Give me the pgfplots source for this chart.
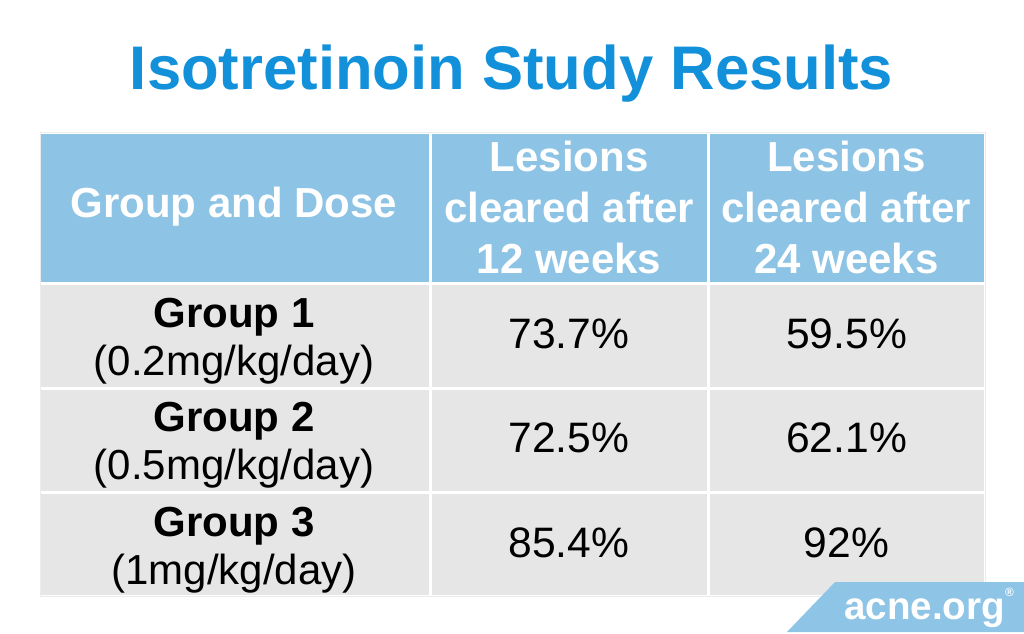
\documentclass[border=0pt]{standalone}
\usepackage{pgfplots}
\pgfplotsset{compat=1.18}
\usepackage{pgfplotstable}
\usepackage{fontspec}
\setmainfont{Liberation Sans}
\definecolor{titleblue}{HTML}{1390DA}
\definecolor{hdr}{HTML}{8DC3E4}
\definecolor{cellgray}{HTML}{E6E6E6}
\definecolor{logoblue}{HTML}{8EC4E6}

\pgfplotstableread{
x y label
569 334 73.7\%
569 438 72.5\%
569 543 85.4\%
846.5 334 59.5\%
846.5 438 62.1\%
846.5 543 92\%
}\valuetable

\begin{document}
\begin{tikzpicture}
\begin{axis}[
  scale only axis, width=512pt, height=316pt,
  xmin=0, xmax=1024, ymin=0, ymax=632, y dir=reverse,
  hide axis, clip=false,
]
% page frame (invisible)
\addplot[draw=none, forget plot] coordinates {(0,0) (1024,0) (1024,632) (0,632)} -- cycle;
% table background (white gaps)
\addplot[fill=white, draw=black!8, line width=0.5pt] coordinates {(40,132) (985,132) (985,596) (40,596)} -- cycle;
% header cells
\addplot[fill=hdr, draw=none] coordinates {(41,134) (428.5,134) (428.5,281.5) (41,281.5)} -- cycle;
\addplot[fill=hdr, draw=none] coordinates {(431.5,134) (706.5,134) (706.5,281.5) (431.5,281.5)} -- cycle;
\addplot[fill=hdr, draw=none] coordinates {(709.5,134) (984,134) (984,281.5) (709.5,281.5)} -- cycle;
% body rows
\addplot[fill=cellgray, draw=none] coordinates {(41,284.5) (428.5,284.5) (428.5,386.5) (41,386.5)} -- cycle;
\addplot[fill=cellgray, draw=none] coordinates {(431.5,284.5) (706.5,284.5) (706.5,386.5) (431.5,386.5)} -- cycle;
\addplot[fill=cellgray, draw=none] coordinates {(709.5,284.5) (984,284.5) (984,386.5) (709.5,386.5)} -- cycle;
\addplot[fill=cellgray, draw=none] coordinates {(41,389.5) (428.5,389.5) (428.5,490.5) (41,490.5)} -- cycle;
\addplot[fill=cellgray, draw=none] coordinates {(431.5,389.5) (706.5,389.5) (706.5,490.5) (431.5,490.5)} -- cycle;
\addplot[fill=cellgray, draw=none] coordinates {(709.5,389.5) (984,389.5) (984,490.5) (709.5,490.5)} -- cycle;
\addplot[fill=cellgray, draw=none] coordinates {(41,493.5) (428.5,493.5) (428.5,595) (41,595)} -- cycle;
\addplot[fill=cellgray, draw=none] coordinates {(431.5,493.5) (706.5,493.5) (706.5,595) (431.5,595)} -- cycle;
\addplot[fill=cellgray, draw=none] coordinates {(709.5,493.5) (984,493.5) (984,595) (709.5,595)} -- cycle;
% logo shape
\addplot[fill=logoblue, draw=none] coordinates {(787,632) (835,582) (1024,582) (1024,632)} -- cycle;

% values
\addplot[only marks, mark=none, nodes near coords, point meta=explicit symbolic,
  every node near coord/.append style={anchor=center, text=black, font=\fontsize{21.3}{25}\selectfont}]
  table[x=x, y=y, meta=label] {\valuetable};

% title
\node[anchor=base, text=titleblue, font=\fontsize{30.8}{36}\selectfont\bfseries] at (axis cs:511.5,89) {Isotretinoin Study Results};
% headers
\node[anchor=center, text=white, font=\fontsize{21}{25}\selectfont\bfseries] at (axis cs:234,207) {Group and Dose};
\node[anchor=center, align=center, text=white, font=\fontsize{21}{25.5}\selectfont\bfseries] at (axis cs:569,207) {Lesions\\cleared after\\12 weeks};
\node[anchor=center, align=center, text=white, font=\fontsize{21}{25.5}\selectfont\bfseries] at (axis cs:846.5,207) {Lesions\\cleared after\\24 weeks};
% group labels
\node[anchor=center, align=center, font=\fontsize{21}{24}\selectfont] at (axis cs:234,341) {\textbf{Group 1}\\(0.2mg/kg/day)};
\node[anchor=center, align=center, font=\fontsize{21}{24}\selectfont] at (axis cs:234,445) {\textbf{Group 2}\\(0.5mg/kg/day)};
\node[anchor=center, align=center, font=\fontsize{21}{24}\selectfont] at (axis cs:234,550) {\textbf{Group 3}\\(1mg/kg/day)};
% logo text
\node[anchor=base, text=white, font=\fontsize{19.3}{22}\selectfont\bfseries] at (axis cs:929,619) {acne.org\raisebox{1.1ex}{\fontsize{6}{7}\selectfont\textregistered}};
\end{axis}
\end{tikzpicture}
\end{document}
